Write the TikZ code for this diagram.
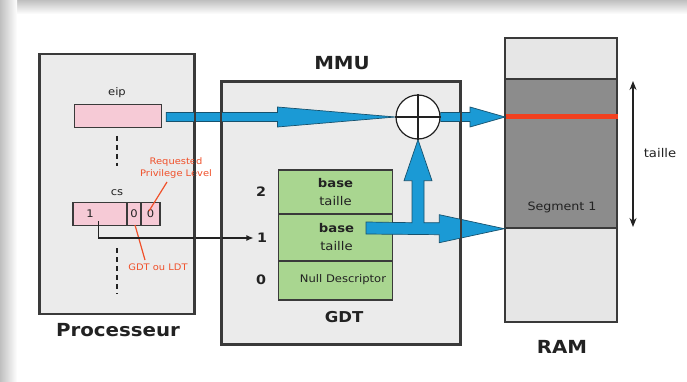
\documentclass[tikz,border=0pt]{standalone}
\usepackage{fontspec}
\setmainfont{DejaVu Sans}[FakeStretch=1.1]
\usetikzlibrary{calc,arrows.meta}
\definecolor{panelfill}{HTML}{EBEBEB}
\definecolor{edge}{HTML}{3A3A3A}
\definecolor{regpink}{HTML}{F6CAD6}
\definecolor{gdtgreen}{HTML}{A9D690}
\definecolor{ramlight}{HTML}{E6E6E6}
\definecolor{ramdark}{HTML}{8C8C8C}
\definecolor{arrblue}{HTML}{1B9AD5}
\definecolor{arrdark}{HTML}{17526E}
\definecolor{hotred}{HTML}{F2401F}
\definecolor{notered}{HTML}{F0502A}
\definecolor{txt}{HTML}{222222}
\begin{document}
\begin{tikzpicture}[x=1pt,y=-1pt,
  panel/.style={rectangle,fill=panelfill,draw=edge,line width=1.6pt,inner sep=0pt},
  border/.style={draw=edge,line width=1.6pt},
  reg/.style={rectangle,fill=regpink,draw=edge,line width=1.3pt,inner sep=0pt},
  gdtrow/.style={rectangle,fill=gdtgreen,draw=edge,line width=1.2pt,inner sep=0pt,minimum width=114pt},
  ramcell/.style={rectangle,draw=edge,line width=1.4pt,inner sep=0pt,minimum width=112pt},
  bigtitle/.style={font=\fontsize{18}{20}\selectfont\bfseries,text=txt},
  small/.style={font=\fontsize{10.5}{12}\selectfont,text=txt},
  idx/.style={font=\fontsize{13}{15}\selectfont\bfseries,text=txt},
  rowtext/.style={font=\fontsize{12}{18}\selectfont,text=txt,align=center},
  note/.style={font=\fontsize{9}{12}\selectfont,text=notered,align=center},
  callout/.style={draw=notered,line width=1.2pt},
  bluearr/.style={fill=arrblue,draw=arrdark,line width=0.7pt,line join=miter},
  dotline/.style={draw=txt,line width=1.6pt,dash pattern=on 5pt off 4pt}
]
\useasboundingbox (0,0) rectangle (687,382);
\fill[white] (0,0) rectangle (687,382);
\shade[top color=black!25,bottom color=white] (0,0) rectangle (687,14);
\shade[left color=black!25,right color=white] (0,0) rectangle (17,382);

% panels
\node[panel,minimum width=154pt,minimum height=259pt] (proc) at (117,184) {};
\node[panel,minimum width=238pt,minimum height=262pt] (mmu) at (341,213) {};
\node[bigtitle] (proclbl) at (118,330) {Processeur};
\node[bigtitle] (mmulbl) at (342,63) {MMU};

% registers
\node[small] (eiplbl) at (117,93) {eip};
\node[reg,minimum width=87pt,minimum height=23pt] (eip) at (118,116) {};
\draw[dotline] (117,136) -- (117,166);
\node[small] (cslbl) at (117,193) {cs};
\node[reg,minimum width=54pt,minimum height=23pt,font=\fontsize{10.5}{12}\selectfont,text=txt] (cs1) at (100,214) {\hspace*{-20pt}1};
\node[reg,minimum width=14pt,minimum height=23pt,font=\fontsize{10.5}{12}\selectfont,text=txt] (cs2) at (134,214) {0};
\node[reg,minimum width=19pt,minimum height=23pt,font=\fontsize{10.5}{12}\selectfont,text=txt] (cs3) at (150.5,214) {0};
\draw[dotline] (117,248) -- (117,294);

% notes
\node[note] (rpl) at (176,168) {Requested\\Privilege Level};
\coordinate (rplend) at (149,211);
\draw[callout] (167,182) -- (rplend);
\node[note] (gdtldt) at (158,267) {GDT ou LDT};
\coordinate (gdtldtend) at (135,225);
\draw[callout] ($(gdtldt.north)+(-13,0)$) -- (gdtldtend);

% GDT
\node[gdtrow,minimum height=44pt] (g2) at (335.5,192) {};
\node[gdtrow,minimum height=47pt] (g1) at (335.5,237.5) {};
\node[gdtrow,minimum height=39pt] (g0) at (335.5,280.5) {};
\node[rowtext] (g2t) at (g2.center) {\textbf{base}\\taille};
\node[rowtext] (g1t) at ($(g1.center)+(1,0)$) {\textbf{base}\\taille};
\node[font=\fontsize{10.5}{12}\selectfont,text=txt] (g0t) at (343,280) {Null Descriptor};
\node[idx] (n2) at (261,192) {2};
\node[idx] (n1) at (262,238) {1};
\node[idx] (n0) at (261,280) {0};
\node[bigtitle,font=\fontsize{15}{17}\selectfont\bfseries] (gdtlbl) at (344,317) {GDT};

% selector connector
\draw[draw=txt,line width=1.2pt,-{Latex[length=7pt,width=6pt]}] ($(cs1.south west)+(26,-5)$) |- (n1.west);

% RAM
\node[ramcell,fill=ramlight,minimum height=41pt] (ramtop) at (561,58.5) {};
\node[ramcell,fill=ramdark,minimum height=149pt] (seg) at (561,153.5) {};
\node[ramcell,fill=ramlight,minimum height=94pt] (rambot) at (561,275) {};
\node[font=\fontsize{11.5}{13}\selectfont,text=txt] (seglbl) at (562,207) {Segment 1};
\node[bigtitle] (ramlbl) at (562,347) {RAM};
\coordinate (hit) at (506,117);
\draw[hotred,line width=5pt] (hit) -- (hit -| seg.east);
\coordinate (tt) at (633,81);
\coordinate (tb) at (633,227);
\draw[draw=txt,line width=1.2pt,{Stealth[length=9pt,width=7pt]}-{Stealth[length=9pt,width=7pt]}] (tt) -- (tb);
\node[font=\fontsize{12}{14}\selectfont,text=txt] (taille) at (660,153) {taille};

% adder
\node[circle,draw=txt,line width=1.2pt,fill=white,minimum size=44pt,inner sep=0pt] (plus) at (418,117) {};

% blue arrows
\coordinate (a1s) at ($(eip.east)+(4,1)$);
\coordinate (a1e) at (plus.west);
\path[bluearr] ($(a1s)+(0,-4.5)$) -- ($(a1e)+(-118,-4.5)$) -- ($(a1e)+(-118,-10)$) -- (a1e)
  -- ($(a1e)+(-118,10)$) -- ($(a1e)+(-118,4.5)$) -- ($(a1s)+(0,4.5)$) -- cycle;
\path[bluearr] ($(plus.east)+(0,-4.5)$) -- ($(hit)+(-36,-4.5)$) -- ($(hit)+(-36,-10)$) -- ($(hit)+(-1,0)$)
  -- ($(hit)+(-36,10)$) -- ($(hit)+(-36,4.5)$) -- ($(plus.east)+(0,4.5)$) -- cycle;
\coordinate (b1s) at ($(g1.center)+(30.5,-9.5)$);
\coordinate (tip) at (seg.south west);
\coordinate (j) at (plus.south |- tip);
\path[bluearr] ($(b1s)+(0,-6)$) -- ($(j)+(-6,-6)$) -- ($(j)+(-6,-48)$) -- ($(j)+(-14,-48)$) -- (plus.south)
  -- ($(j)+(14,-48)$) -- ($(j)+(6,-48)$) -- ($(j)+(6,-6)$) -- ($(tip)+(-65,-6)$) -- ($(tip)+(-65,-14)$)
  -- (tip) -- ($(tip)+(-65,14)$) -- ($(tip)+(-65,6)$) -- ($(b1s)+(0,6)$) -- cycle;

% adder cross and panel borders on top
\draw[txt,line width=1.2pt] (plus.north) -- (plus.south) (plus.west) -- (plus.east);
\draw[border] (proc.south west) rectangle (proc.north east);
\draw[border] (mmu.south west) rectangle (mmu.north east);
\end{tikzpicture}
\end{document}
